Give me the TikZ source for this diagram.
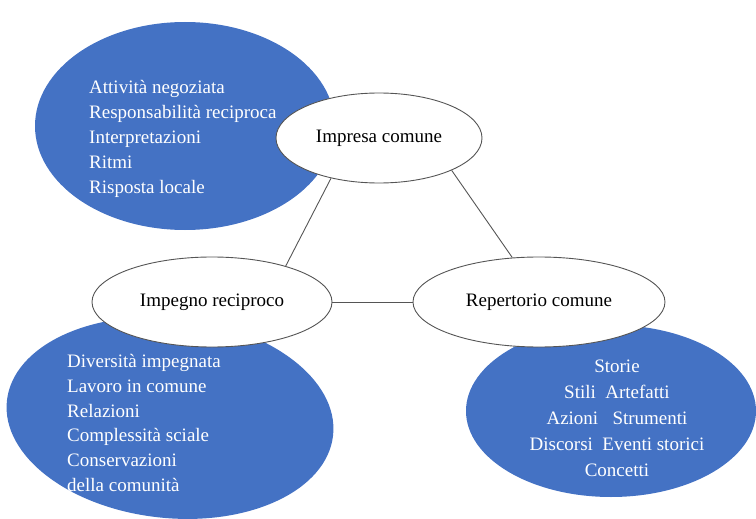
\documentclass[tikz,border=0pt]{standalone}
\usepackage{fontspec}
\setmainfont{Liberation Serif}
\usetikzlibrary{shapes.geometric}
\definecolor{areablue}{HTML}{4472C4}
\definecolor{rim}{HTML}{555555}
\tikzset{
  area/.style={ellipse, fill=areablue, draw=none, inner sep=0pt},
  hub/.style={ellipse, fill=white, draw=rim, line width=0.9pt, inner sep=0pt,
    font=\fontsize{19}{24}\selectfont},
  listing/.style={text=white, inner sep=0pt, font=\fontsize{19}{24.8}\selectfont},
  link/.style={draw=rim, line width=0.9pt}
}
\begin{document}
\begin{tikzpicture}[x=1pt,y=-1pt]
\useasboundingbox (0,0) rectangle (756,519);
% blue areas
\node[area, minimum width=300, minimum height=208] (aTop) at (185,126) {};
\node[area, minimum width=328, minimum height=200, rotate=-6] (aLeft) at (170,418) {};
\node[area, minimum width=290, minimum height=172] (aRight) at (611,411) {};
% item lists
\node[listing, align=left, anchor=west] (lTop) at (89,139)
  {Attività negoziata\\Responsabilità reciproca\\Interpretazioni\\Ritmi\\Risposta locale};
\node[listing, align=left, anchor=west] (lLeft) at (67,423)
  {Diversità impegnata\\Lavoro in comune\\Relazioni\\Complessità sciale\\Conservazioni\\della comunità};
\node[listing, align=center, font=\fontsize{19}{26}\selectfont] (lRight) at (617,418)
  {Storie\\Stili\ \ Artefatti\\Azioni\ \ \ Strumenti\\Discorsi\ \ Eventi storici\\Concetti};
% central ellipses
\node[hub, minimum width=206, minimum height=90] (impresa) at (379,138) {Impresa comune};
\node[hub, minimum width=240, minimum height=90] (impegno) at (212,302) {Impegno reciproco};
\node[hub, minimum width=252, minimum height=90] (repertorio) at (539,302) {Repertorio comune};
% links between the central ellipses
\draw[link] (impresa.220) -- (impegno.26);
\draw[link] (impresa.336) -- (repertorio.121);
\draw[link] (impegno.east) -- (repertorio.west);
\end{tikzpicture}
\end{document}
